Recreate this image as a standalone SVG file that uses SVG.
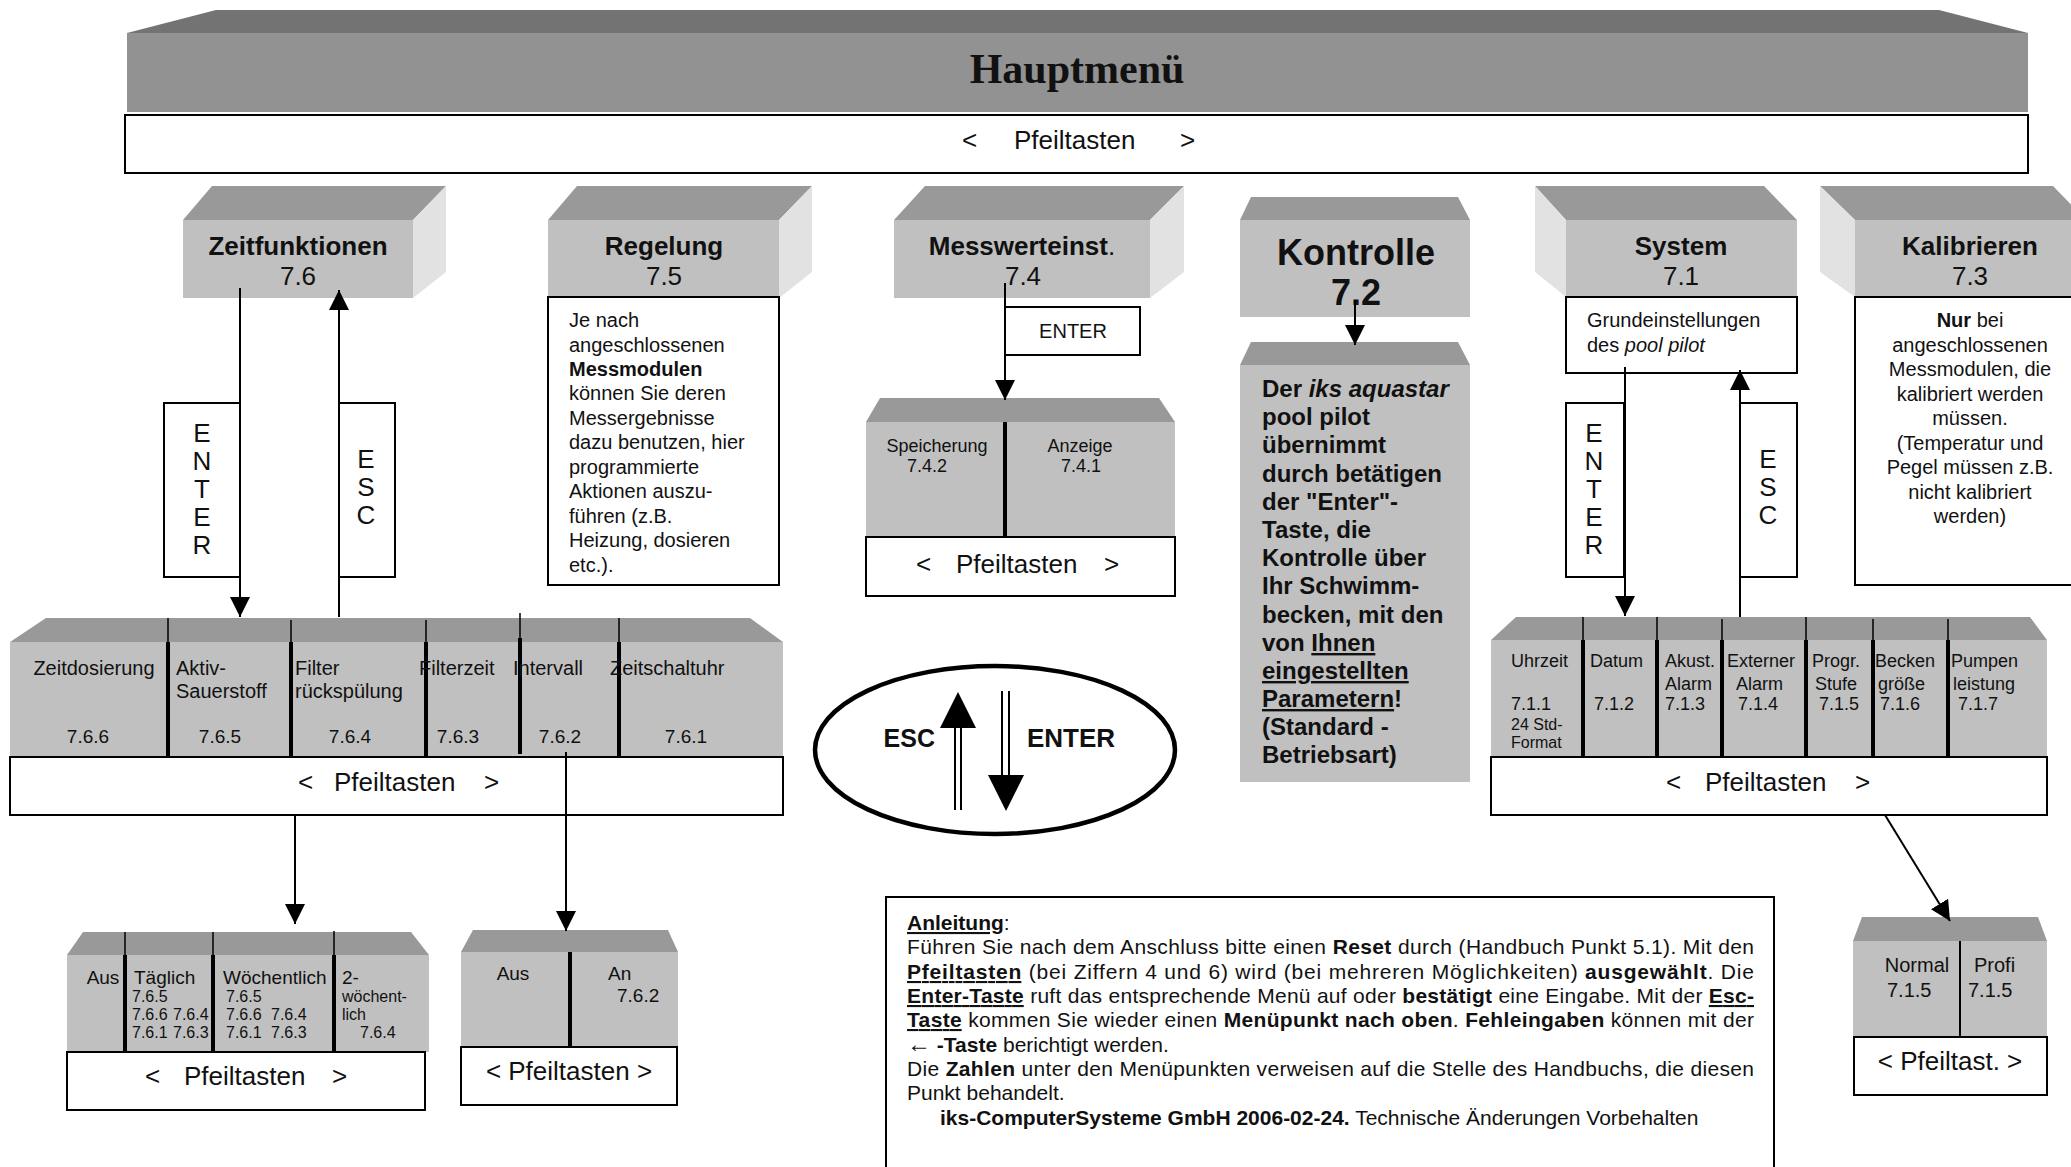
<svg xmlns="http://www.w3.org/2000/svg" width="2071" height="1167" viewBox="0 0 2071 1167">
<style>
text{font-family:"Liberation Sans",Arial,sans-serif;fill:#111}
.top{fill:#999}
.front{fill:#c0c0c0}
.side{fill:#e2e2e2}
.box{fill:#fff;stroke:#000;stroke-width:2}
.dk{stroke:#000;stroke-width:4}
.dt{stroke:#000;stroke-width:1.5}
.h{font-size:26px;font-weight:bold;text-anchor:middle}
.n{font-size:26px;text-anchor:middle}
.p{font-size:26px}
.v{font-size:26px;text-anchor:middle}
.d{font-size:20px}
.l{font-size:19px}
.s{font-size:16px}
.m{font-size:18px}
.k{font-size:24px;font-weight:bold}
.a{font-size:21px}
.b{font-weight:bold}
.u{text-decoration:underline}
.conn line{stroke:#000;stroke-width:2;fill:none}
</style>
<defs>
<marker id="ah" viewBox="0 0 20 20" refX="20" refY="10" markerWidth="20" markerHeight="20" markerUnits="userSpaceOnUse" orient="auto"><path d="M0,0 L20,10 L0,20 z" fill="#000"/></marker>
</defs>

<g id="hauptmenue">
<polygon points="127,33 216,10 1939,10 2028,33" fill="#737373"/>
<rect x="127" y="33" width="1901" height="79" fill="#929292"/>
<text x="1077" y="83" style="font-family:'Liberation Serif','Times New Roman',serif;font-size:42px;font-weight:bold;text-anchor:middle">Hauptmenü</text>
<rect class="box" x="125" y="115" width="1903" height="58"/>
<text class="p" y="149"><tspan x="962">&lt;</tspan><tspan x="1014">Pfeiltasten</tspan><tspan x="1180">&gt;</tspan></text>
</g>

<g id="zeitfunktionen">
<polygon class="top" points="183,220 212,186 446,186 413,220"/>
<polygon class="side" points="413,220 446,186 446,272 413,298"/>
<rect class="front" x="183" y="220" width="230" height="78"/>
<text class="h" x="298" y="255">Zeitfunktionen</text>
<text class="n" x="298" y="285">7.6</text>
</g>

<g id="regelung">
<polygon class="top" points="548,220 577,186 812,186 779,220"/>
<polygon class="side" points="779,220 812,186 812,272 779,298"/>
<rect class="front" x="548" y="220" width="231" height="78"/>
<text class="h" x="664" y="255">Regelung</text>
<text class="n" x="664" y="285">7.5</text>
<rect class="box" x="548" y="297" width="231" height="288"/>
<text class="d"><tspan x="569" y="327">Je nach</tspan><tspan x="569" y="352">angeschlossenen</tspan><tspan x="569" y="376" class="b">Messmodulen</tspan><tspan x="569" y="400">können Sie deren</tspan><tspan x="569" y="425">Messergebnisse</tspan><tspan x="569" y="449">dazu benutzen, hier</tspan><tspan x="569" y="474">programmierte</tspan><tspan x="569" y="498">Aktionen auszu-</tspan><tspan x="569" y="523">führen (z.B.</tspan><tspan x="569" y="547">Heizung, dosieren</tspan><tspan x="569" y="572">etc.).</tspan></text>
</g>

<g id="messwerteinst">
<polygon class="top" points="894,220 925,186 1184,186 1150,220"/>
<polygon class="side" points="1150,220 1184,186 1184,272 1150,298"/>
<rect class="front" x="894" y="220" width="256" height="78"/>
<text class="h" x="1022" y="255">Messwerteinst<tspan style="font-weight:normal">.</tspan></text>
<text class="n" x="1023" y="285">7.4</text>
</g>

<g id="kontrolle">
<polygon class="top" points="1240,220 1251,197 1458,197 1470,220"/>
<rect class="front" x="1240" y="220" width="230" height="97"/>
<text x="1356" y="265" style="font-size:36px;font-weight:bold;text-anchor:middle">Kontrolle</text>
<text x="1356" y="305" style="font-size:36px;font-weight:bold;text-anchor:middle">7.2</text>
</g>

<g id="system">
<polygon class="top" points="1566,220 1535,186 1764,186 1797,220"/>
<polygon class="side" points="1535,186 1566,220 1566,297 1535,272"/>
<rect class="front" x="1566" y="220" width="231" height="77"/>
<text class="h" x="1681" y="255">System</text>
<text class="n" x="1681" y="285">7.1</text>
<rect class="box" x="1566" y="297" width="231" height="76"/>
<text class="d"><tspan x="1587" y="327">Grundeinstellungen</tspan><tspan x="1587" y="352">des <tspan style="font-style:italic">pool pilot</tspan></tspan></text>
</g>

<g id="kalibrieren">
<polygon class="top" points="1855,220 1820,186 2053,186 2086,220"/>
<polygon class="side" points="1820,186 1855,220 1855,297 1820,272"/>
<rect class="front" x="1855" y="220" width="231" height="77"/>
<text class="h" x="1970" y="255">Kalibrieren</text>
<text class="n" x="1970" y="285">7.3</text>
<rect class="box" x="1855" y="297" width="240" height="288"/>
<text class="d" style="text-anchor:middle"><tspan x="1970" y="327"><tspan class="b">Nur</tspan> bei</tspan><tspan x="1970" y="352">angeschlossenen</tspan><tspan x="1970" y="376">Messmodulen, die</tspan><tspan x="1970" y="401">kalibriert werden</tspan><tspan x="1970" y="425">müssen.</tspan><tspan x="1970" y="450">(Temperatur und</tspan><tspan x="1970" y="474">Pegel müssen z.B.</tspan><tspan x="1970" y="499">nicht kalibriert</tspan><tspan x="1970" y="523">werden)</tspan></text>
</g>

<g id="zeit-enter">
<rect class="box" x="164" y="403" width="76" height="174"/>
<text class="v"><tspan x="202" y="442">E</tspan><tspan x="202" y="470">N</tspan><tspan x="202" y="498">T</tspan><tspan x="202" y="526">E</tspan><tspan x="202" y="554">R</tspan></text>
</g>
<g id="zeit-esc">
<rect class="box" x="339" y="403" width="56" height="174"/>
<text class="v"><tspan x="366" y="468">E</tspan><tspan x="366" y="496">S</tspan><tspan x="366" y="524">C</tspan></text>
</g>
<g id="mess-enter">
<rect class="box" x="1005" y="307" width="135" height="48"/>
<text x="1073" y="338" style="font-size:20px;text-anchor:middle">ENTER</text>
</g>
<g id="system-enter">
<rect class="box" x="1566" y="403" width="58" height="174"/>
<text class="v"><tspan x="1594" y="442">E</tspan><tspan x="1594" y="470">N</tspan><tspan x="1594" y="498">T</tspan><tspan x="1594" y="526">E</tspan><tspan x="1594" y="554">R</tspan></text>
</g>
<g id="system-esc">
<rect class="box" x="1740" y="403" width="57" height="174"/>
<text class="v"><tspan x="1768" y="468">E</tspan><tspan x="1768" y="496">S</tspan><tspan x="1768" y="524">C</tspan></text>
</g>

<g id="messwert-sub">
<polygon class="top" points="866,422 880,398 1159,398 1175,422"/>
<rect class="front" x="866" y="422" width="309" height="115"/>
<line class="dk" x1="1005" y1="422" x2="1005" y2="537"/>
<text class="m" style="text-anchor:middle"><tspan x="937" y="452">Speicherung</tspan><tspan x="927" y="472">7.4.2</tspan><tspan x="1080" y="452">Anzeige</tspan><tspan x="1081" y="472">7.4.1</tspan></text>
<rect class="box" x="866" y="537" width="309" height="59"/>
<text class="p" y="573"><tspan x="916">&lt;</tspan><tspan x="956">Pfeiltasten</tspan><tspan x="1104">&gt;</tspan></text>
</g>

<g id="kontrolle-info">
<polygon class="top" points="1240,365 1251,342 1458,342 1470,365"/>
<rect class="front" x="1240" y="365" width="230" height="417"/>
<text class="k"><tspan x="1262" y="397">Der <tspan style="font-style:italic">iks aquastar</tspan></tspan><tspan x="1262" y="425">pool pilot</tspan><tspan x="1262" y="453">übernimmt</tspan><tspan x="1262" y="482">durch betätigen</tspan><tspan x="1262" y="510">der "Enter"-</tspan><tspan x="1262" y="538">Taste, die</tspan><tspan x="1262" y="566">Kontrolle über</tspan><tspan x="1262" y="594">Ihr Schwimm-</tspan><tspan x="1262" y="623">becken, mit den</tspan><tspan x="1262" y="651">von <tspan class="u">Ihnen</tspan></tspan><tspan x="1262" y="679" class="u">eingestellten</tspan><tspan x="1262" y="707"><tspan class="u">Parametern</tspan>!</tspan><tspan x="1262" y="735">(Standard -</tspan><tspan x="1262" y="763">Betriebsart)</tspan></text>
</g>

<g id="zeit-sub">
<polygon class="top" points="10,642 46,618 750,618 783,642"/>
<rect class="front" x="10" y="642" width="773" height="115"/>
<line class="dt" x1="168" y1="618" x2="168" y2="642"/><line class="dk" x1="168" y1="642" x2="168" y2="757"/>
<line class="dt" x1="291" y1="620" x2="291" y2="642"/><line class="dk" x1="291" y1="642" x2="291" y2="762"/>
<line class="dt" x1="426" y1="620" x2="426" y2="642"/><line class="dk" x1="426" y1="642" x2="426" y2="757"/>
<line class="dt" x1="520" y1="613" x2="520" y2="638"/><line class="dk" x1="520" y1="638" x2="520" y2="754"/>
<line class="dt" x1="619" y1="618" x2="619" y2="642"/><line class="dk" x1="619" y1="642" x2="619" y2="757"/>
<text class="d"><tspan x="94" y="675" style="text-anchor:middle">Zeitdosierung</tspan><tspan x="176" y="675">Aktiv-</tspan><tspan x="176" y="698">Sauerstoff</tspan><tspan x="295" y="675">Filter</tspan><tspan x="295" y="698">rückspülung</tspan><tspan x="419" y="675">Filterzeit</tspan><tspan x="513" y="675">Intervall</tspan><tspan x="610" y="675">Zeitschaltuhr</tspan></text>
<text class="l" style="text-anchor:middle"><tspan x="88" y="743">7.6.6</tspan><tspan x="220" y="743">7.6.5</tspan><tspan x="350" y="743">7.6.4</tspan><tspan x="458" y="743">7.6.3</tspan><tspan x="560" y="743">7.6.2</tspan><tspan x="686" y="743">7.6.1</tspan></text>
<rect class="box" x="10" y="757" width="773" height="58"/>
<text class="p" y="791"><tspan x="298">&lt;</tspan><tspan x="334">Pfeiltasten</tspan><tspan x="484">&gt;</tspan></text>
</g>

<g id="system-sub">
<polygon class="top" points="1491,640 1516,617 2030,617 2047,640"/>
<rect class="front" x="1491" y="640" width="556" height="117"/>
<line class="dt" x1="1583" y1="617" x2="1583" y2="640"/><line class="dk" x1="1583" y1="640" x2="1583" y2="757"/>
<line class="dt" x1="1657" y1="617" x2="1657" y2="640"/><line class="dk" x1="1657" y1="640" x2="1657" y2="757"/>
<line class="dt" x1="1722" y1="619" x2="1722" y2="640"/><line class="dk" x1="1722" y1="640" x2="1722" y2="757"/>
<line class="dt" x1="1806" y1="617" x2="1806" y2="640"/><line class="dk" x1="1806" y1="640" x2="1806" y2="757"/>
<line class="dt" x1="1873" y1="619" x2="1873" y2="640"/><line class="dk" x1="1873" y1="640" x2="1873" y2="757"/>
<line class="dt" x1="1948" y1="619" x2="1948" y2="640"/><line class="dk" x1="1948" y1="640" x2="1948" y2="760"/>
<text class="m"><tspan x="1511" y="667">Uhrzeit</tspan><tspan x="1511" y="710">7.1.1</tspan><tspan x="1590" y="667">Datum</tspan><tspan x="1594" y="710">7.1.2</tspan><tspan x="1665" y="667">Akust.</tspan><tspan x="1665" y="690">Alarm</tspan><tspan x="1665" y="710">7.1.3</tspan><tspan x="1727" y="667">Externer</tspan><tspan x="1736" y="690">Alarm</tspan><tspan x="1738" y="710">7.1.4</tspan><tspan x="1812" y="667">Progr.</tspan><tspan x="1815" y="690">Stufe</tspan><tspan x="1819" y="710">7.1.5</tspan><tspan x="1875" y="667">Becken</tspan><tspan x="1878" y="690">größe</tspan><tspan x="1880" y="710">7.1.6</tspan><tspan x="1951" y="667">Pumpen</tspan><tspan x="1953" y="690">leistung</tspan><tspan x="1958" y="710">7.1.7</tspan></text>
<text class="s"><tspan x="1511" y="730">24 Std-</tspan><tspan x="1511" y="748">Format</tspan></text>
<rect class="box" x="1491" y="757" width="556" height="58"/>
<text class="p" y="791"><tspan x="1666">&lt;</tspan><tspan x="1705">Pfeiltasten</tspan><tspan x="1855">&gt;</tspan></text>
</g>

<g id="zeit-tag">
<polygon class="top" points="67,955 83,932 411,932 429,955"/>
<rect class="front" x="67" y="955" width="362" height="97"/>
<line class="dt" x1="125" y1="932" x2="125" y2="955"/><line class="dk" x1="125" y1="955" x2="125" y2="1052"/>
<line class="dt" x1="213" y1="932" x2="213" y2="955"/><line class="dk" x1="213" y1="955" x2="213" y2="1052"/>
<line class="dt" x1="334" y1="931" x2="334" y2="955"/><line class="dk" x1="334" y1="955" x2="334" y2="1052"/>
<text class="l"><tspan x="103" y="984" style="text-anchor:middle">Aus</tspan><tspan x="134" y="984">Täglich</tspan><tspan x="223" y="984">Wöchentlich</tspan><tspan x="342" y="984">2-</tspan></text>
<text class="s"><tspan x="132" y="1002">7.6.5</tspan><tspan x="132" y="1020">7.6.6</tspan><tspan x="173" y="1020">7.6.4</tspan><tspan x="132" y="1038">7.6.1</tspan><tspan x="173" y="1038">7.6.3</tspan><tspan x="226" y="1002">7.6.5</tspan><tspan x="226" y="1020">7.6.6</tspan><tspan x="271" y="1020">7.6.4</tspan><tspan x="226" y="1038">7.6.1</tspan><tspan x="271" y="1038">7.6.3</tspan><tspan x="342" y="1002">wöchent-</tspan><tspan x="342" y="1020">lich</tspan><tspan x="360" y="1038">7.6.4</tspan></text>
<rect class="box" x="67" y="1052" width="358" height="58"/>
<text class="p" y="1085"><tspan x="145">&lt;</tspan><tspan x="184">Pfeiltasten</tspan><tspan x="332">&gt;</tspan></text>
</g>

<g id="zeit-intervall">
<polygon class="top" points="461,952 473,930 668,930 678,952"/>
<rect class="front" x="461" y="952" width="217" height="95"/>
<line class="dk" x1="570" y1="952" x2="570" y2="1047"/>
<text class="l"><tspan x="513" y="980" style="text-anchor:middle">Aus</tspan><tspan x="608" y="980">An</tspan><tspan x="617" y="1002">7.6.2</tspan></text>
<rect class="box" x="461" y="1047" width="216" height="58"/>
<text class="n" x="569" y="1080">&lt; Pfeiltasten &gt;</text>
</g>

<g id="system-stufe">
<polygon class="top" points="1853,941 1862,917 2038,917 2047,941"/>
<rect class="front" x="1853" y="941" width="194" height="96"/>
<line stroke="#000" stroke-width="2" x1="1960" y1="941" x2="1960" y2="1037"/>
<text class="d"><tspan x="1917" y="972" style="text-anchor:middle">Normal</tspan><tspan x="1887" y="997">7.1.5</tspan><tspan x="1974" y="972">Profi</tspan><tspan x="1968" y="997">7.1.5</tspan></text>
<rect class="box" x="1854" y="1037" width="193" height="58"/>
<text class="n" x="1950" y="1070">&lt; Pfeiltast. &gt;</text>
</g>

<g id="legende">
<ellipse cx="995" cy="750" rx="180" ry="84" fill="#fff" stroke="#000" stroke-width="4.5"/>
<line stroke="#000" stroke-width="2" x1="955" y1="727" x2="955" y2="810"/>
<line stroke="#000" stroke-width="2" x1="961" y1="727" x2="961" y2="810"/>
<polygon points="940,728 958,692 976,728" fill="#000"/>
<line stroke="#000" stroke-width="2" x1="1002" y1="691" x2="1002" y2="776"/>
<line stroke="#000" stroke-width="2" x1="1009" y1="691" x2="1009" y2="776"/>
<polygon points="988,775 1006,811 1024,775" fill="#000"/>
<text x="935" y="747" style="font-size:25px;font-weight:bold;text-anchor:end">ESC</text>
<text x="1027" y="747" style="font-size:26px;font-weight:bold">ENTER</text>
</g>

<g id="anleitung">
<rect class="box" x="886" y="897" width="888" height="290"/>
<text class="a" x="907" y="930"><tspan class="b u">Anleitung</tspan>:</text>
<text class="a" x="907" y="954" textLength="847" lengthAdjust="spacing">Führen Sie nach dem Anschluss bitte einen <tspan class="b">Reset</tspan> durch (Handbuch Punkt 5.1). Mit den</text>
<text class="a" x="907" y="979" textLength="847" lengthAdjust="spacing"><tspan class="b u">Pfeiltasten</tspan> (bei Ziffern 4 und 6) wird (bei mehreren Möglichkeiten) <tspan class="b">ausgewählt</tspan>. Die</text>
<text class="a" x="907" y="1003" textLength="847" lengthAdjust="spacing"><tspan class="b u">Enter-Taste</tspan> ruft das entsprechende Menü auf oder <tspan class="b">bestätigt</tspan> eine Eingabe. Mit der <tspan class="b u">Esc-</tspan></text>
<text class="a" x="907" y="1027" textLength="847" lengthAdjust="spacing"><tspan class="b u">Taste</tspan> kommen Sie wieder einen <tspan class="b">Menüpunkt nach oben</tspan>. <tspan class="b">Fehleingaben</tspan> können mit der</text>
<text class="a" x="907" y="1052"><tspan style="font-size:24px">←</tspan> <tspan class="b">-Taste</tspan> berichtigt werden.</text>
<text class="a" x="907" y="1076" textLength="847" lengthAdjust="spacing">Die <tspan class="b">Zahlen</tspan> unter den Menüpunkten verweisen auf die Stelle des Handbuchs, die diesen</text>
<text class="a" x="907" y="1100">Punkt behandelt.</text>
<text class="a" x="940" y="1125"><tspan class="b">iks-ComputerSysteme GmbH 2006-02-24.</tspan> Technische Änderungen Vorbehalten</text>
</g>

<g id="connectors" class="conn">
<line x1="240" y1="288" x2="240" y2="617" marker-end="url(#ah)"/>
<line x1="339" y1="617" x2="339" y2="290" marker-end="url(#ah)"/>
<line x1="1005" y1="283" x2="1005" y2="400" marker-end="url(#ah)"/>
<line x1="1355" y1="300" x2="1355" y2="345" marker-end="url(#ah)"/>
<line x1="1625" y1="367" x2="1625" y2="616" marker-end="url(#ah)"/>
<line x1="1740" y1="617" x2="1740" y2="370" marker-end="url(#ah)"/>
<line x1="295" y1="816" x2="295" y2="924" marker-end="url(#ah)"/>
<line x1="566" y1="752" x2="566" y2="931" marker-end="url(#ah)"/>
<line x1="1885" y1="815" x2="1950" y2="921" marker-end="url(#ah)"/>
</g>
</svg>
